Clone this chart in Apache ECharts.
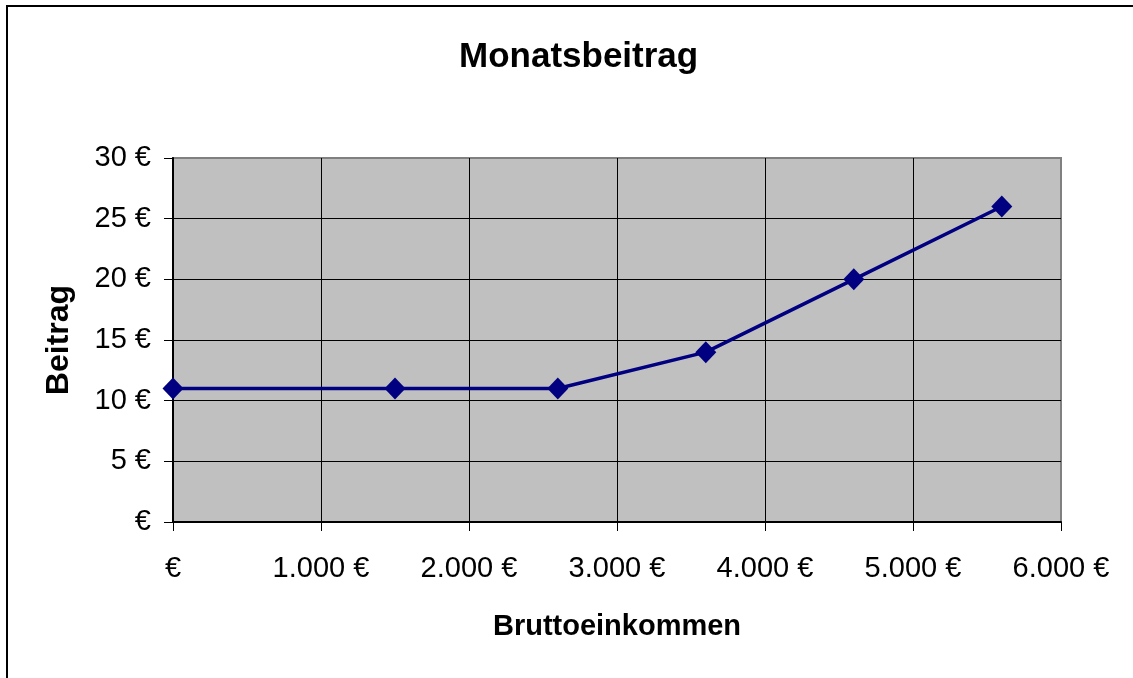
<!DOCTYPE html>
<html>
<head>
<meta charset="utf-8">
<title>Monatsbeitrag</title>
<script src="https://cdn.jsdelivr.net/npm/echarts@6/dist/echarts.min.js"></script>
<style>
  html, body { margin: 0; padding: 0; background: #fff; }
  #chart { width: 1133px; height: 678px; }
</style>
</head>
<body>
<div id="chart"></div>
<script>
// Daten
const einkommen = [0, 1500, 2600, 3600, 4600, 5600]
const beitrag = [11, 11, 11, 14, 20, 26]

const fontFamily = 'Liberation Sans, Arial, sans-serif'

// 1.000 € usw.
function euro(v) {
  if (v === 0) return '€'
  return String(v).replace(/\B(?=(\d{3})+(?!\d))/g, '.') + ' €'
}

const myChart = echarts.init(document.getElementById('chart'))

myChart.setOption({
  backgroundColor: '#fff',
  animation: false,
  title: {
    text: 'Monatsbeitrag',
    left: 454,
    top: 35,
    textStyle: {
      fontFamily: fontFamily,
      fontSize: 35,
      fontWeight: 'bold',
      color: '#000'
    }
  },
  graphic: [
    { // Rahmen
      type: 'rect',
      shape: { x: 7, y: 6, width: 1140, height: 690 },
      style: { fill: 'none', stroke: '#000', lineWidth: 2 },
      silent: true
    }
  ],
  grid: {
    left: 173,
    right: 72,
    top: 158,
    bottom: 156,
    show: true,
    backgroundColor: '#c0c0c0',
    borderColor: '#808080',
    borderWidth: 2
  },
  xAxis: {
    type: 'value',
    min: 0,
    max: 6000,
    interval: 1000,
    name: 'Bruttoeinkommen',
    nameLocation: 'middle',
    nameGap: 90,
    nameTextStyle: {
      fontFamily: fontFamily,
      fontSize: 29,
      fontWeight: 'bold',
      color: '#000'
    },
    axisLine: { show: true, lineStyle: { color: '#000', width: 2 } },
    axisTick: { show: true, length: 9, lineStyle: { color: '#000', width: 1 } },
    axisLabel: {
      margin: 32,
      formatter: euro,
      fontFamily: fontFamily,
      fontSize: 29,
      color: '#000'
    },
    splitLine: {
      show: true,
      showMinLine: false,
      showMaxLine: false,
      lineStyle: { color: '#000', width: 1 }
    }
  },
  yAxis: {
    type: 'value',
    min: 0,
    max: 30,
    interval: 5,
    name: 'Beitrag',
    nameLocation: 'middle',
    nameGap: 98,
    nameTextStyle: {
      fontFamily: fontFamily,
      fontSize: 32,
      fontWeight: 'bold',
      color: '#000'
    },
    axisLine: { show: true, lineStyle: { color: '#000', width: 2 } },
    axisTick: { show: true, length: 9, lineStyle: { color: '#000', width: 1 } },
    axisLabel: {
      margin: 22,
      formatter: euro,
      fontFamily: fontFamily,
      fontSize: 29,
      color: '#000'
    },
    splitLine: {
      show: true,
      showMinLine: false,
      showMaxLine: false,
      lineStyle: { color: '#000', width: 1 }
    }
  },
  series: [
    {
      name: 'Beitrag',
      type: 'line',
      data: einkommen.map((x, i) => [x, beitrag[i]]),
      symbol: 'diamond',
      symbolSize: [21, 22],
      itemStyle: { color: '#000080' },
      lineStyle: { color: '#000080', width: 3.5 }
    }
  ]
})
</script>
</body>
</html>
